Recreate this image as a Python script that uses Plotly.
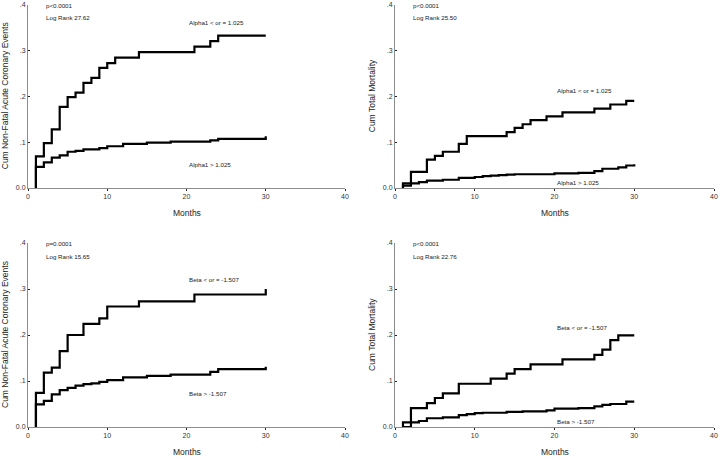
import plotly.graph_objects as go
from plotly.subplots import make_subplots

# ---- data ----
# panel A: non-fatal acute coronary events, Alpha1
a_hi_x = [1, 1, 2, 3, 4, 5, 6, 7, 8, 9, 10, 11, 14, 21, 23, 24, 30]
a_hi_y = [0, 0.069, 0.098, 0.128, 0.177, 0.198, 0.208, 0.229, 0.240, 0.262, 0.272, 0.284, 0.296, 0.308, 0.320, 0.332, 0.332]
a_lo_x = [1, 1, 2, 3, 4, 5, 6, 7, 9, 10, 12, 15, 18, 23, 24, 30, 30]
a_lo_y = [0, 0.046, 0.056, 0.066, 0.071, 0.079, 0.081, 0.084, 0.087, 0.091, 0.096, 0.099, 0.101, 0.104, 0.107, 0.107, 0.113]

# panel B: total mortality, Alpha1
b_hi_x = [1, 1, 2, 4, 5, 6, 8, 9, 14, 15, 16, 17, 19, 21, 25, 27, 29, 30]
b_hi_y = [0, 0.010, 0.035, 0.062, 0.070, 0.079, 0.096, 0.113, 0.122, 0.131, 0.139, 0.148, 0.156, 0.165, 0.173, 0.182, 0.190, 0.190]
b_lo_x = [1, 1, 2, 3, 4, 6, 8, 10, 11, 12, 13, 14, 15, 20, 23, 25, 26, 28, 29, 30]
b_lo_y = [0, 0.005, 0.010, 0.013, 0.016, 0.018, 0.022, 0.024, 0.026, 0.027, 0.028, 0.029, 0.030, 0.032, 0.033, 0.037, 0.042, 0.045, 0.049, 0.052]

# panel C: non-fatal acute coronary events, Beta
c_hi_x = [1, 1, 2, 3, 4, 5, 7, 9, 10, 14, 21, 30, 30]
c_hi_y = [0, 0.074, 0.118, 0.129, 0.165, 0.200, 0.224, 0.236, 0.262, 0.273, 0.288, 0.288, 0.300]
c_lo_x = [1, 1, 2, 3, 4, 5, 6, 7, 8, 9, 10, 12, 15, 18, 23, 24, 30, 30]
c_lo_y = [0, 0.049, 0.057, 0.071, 0.080, 0.085, 0.090, 0.093, 0.095, 0.098, 0.102, 0.108, 0.111, 0.114, 0.120, 0.126, 0.126, 0.131]

# panel D: total mortality, Beta
d_hi_x = [1, 2, 4, 5, 6, 8, 12, 14, 15, 17, 21, 25, 26, 27, 28, 30]
d_hi_y = [0, 0.041, 0.052, 0.063, 0.073, 0.094, 0.105, 0.116, 0.126, 0.136, 0.147, 0.157, 0.168, 0.189, 0.199, 0.199]
d_lo_x = [1, 1, 3, 4, 6, 8, 9, 10, 11, 14, 16, 19, 20, 23, 25, 26, 27, 29, 30]
d_lo_y = [0, 0.010, 0.013, 0.019, 0.021, 0.026, 0.028, 0.030, 0.031, 0.033, 0.034, 0.036, 0.040, 0.041, 0.045, 0.048, 0.050, 0.055, 0.055]

panels = [
    (a_hi_x, a_hi_y, a_lo_x, a_lo_y, "Alpha1 < or = 1.025", "Alpha1 > 1.025", 0.360, 0.052,
     "p<0.0001", "Log Rank 27.62", "Cum Non-Fatal Acute Coronary Events"),
    (b_hi_x, b_hi_y, b_lo_x, b_lo_y, "Alpha1 < or = 1.025", "Alpha1 > 1.025", 0.212, 0.011,
     "p<0.0001", "Log Rank 25.50", "Cum Total Mortality"),
    (c_hi_x, c_hi_y, c_lo_x, c_lo_y, "Beta < or = -1.507", "Beta > -1.507", 0.320, 0.072,
     "p=0.0001", "Log Rank 15.65", "Cum Non-Fatal Acute Coronary Events"),
    (d_hi_x, d_hi_y, d_lo_x, d_lo_y, "Beta < or = -1.507", "Beta > -1.507", 0.217, 0.011,
     "p<0.0001", "Log Rank 22.76", "Cum Total Mortality"),
]

x_ticks = [0, 10, 20, 30, 40]
y_ticks = [0, 0.1, 0.2, 0.3, 0.4]
y_tick_text = ["0.0", ".1", ".2", ".3", ".4"]

W, H = 720, 460
x_doms = [(28 / W, 345 / W), (395 / W, 714 / W)]
y_doms = [(1 - 188 / H, 1 - 4.5 / H), (1 - 427 / H, 1 - 243 / H)]

fig = make_subplots(rows=2, cols=2)
FONT = "Liberation Sans, Arial, sans-serif"

for i, (hx, hy, lx, ly, hlab, llab, hty, lty, ptxt, lrtxt, ytitle) in enumerate(panels):
    r, c = i // 2 + 1, i % 2 + 1
    for xs, ys in [(hx, hy), (lx, ly)]:
        fig.add_trace(go.Scatter(x=xs, y=ys, mode="lines", line_shape="hv",
                                 line=dict(color="black", width=2.2), showlegend=False,
                                 hoverinfo="skip"), row=r, col=c)
    n = "" if i == 0 else str(i + 1)
    xd, yd = x_doms[c - 1], y_doms[r - 1]
    fig.layout["xaxis" + n].update(domain=list(xd), range=[0, 40], tickvals=x_ticks,
                                   showline=True, linecolor="#8c8c8c", linewidth=1,
                                   ticks="outside", ticklen=2, tickcolor="#222",
                                   showgrid=False, zeroline=False, automargin=False,
                                   ticklabeloverflow="allow",
                                   tickfont=dict(size=7, color="#333", family=FONT))
    fig.layout["yaxis" + n].update(domain=list(yd), range=[0, 0.4], tickvals=y_ticks,
                                   ticktext=y_tick_text,
                                   showline=True, linecolor="#8c8c8c", linewidth=1,
                                   ticks="inside", ticklen=2, tickcolor="#222",
                                   showgrid=False, zeroline=False, automargin=False,
                                   ticklabeloverflow="allow",
                                   tickfont=dict(size=7, color="#333", family=FONT))
    xref, yref = "x" + n, "y" + n
    for txt, tx, ty in [(hlab, 20, hty), (llab, 20, lty), (ptxt, 2, 0.398), (lrtxt, 2, 0.371)]:
        fig.add_annotation(x=tx, y=ty, xref=xref, yref=yref, text=txt, showarrow=False,
                           xanchor="left", yanchor="middle",
                           font=dict(size=6.2, color="#222", family=FONT))
    # axis titles
    fig.add_annotation(x=(xd[0] + xd[1]) / 2, y=yd[0] - 25 / H, xref="paper", yref="paper",
                       text="Months", showarrow=False, xanchor="center", yanchor="middle",
                       font=dict(size=8.5, color="#222", family=FONT))
    fig.add_annotation(x=xd[0] - 23 / W, y=(yd[0] + yd[1]) / 2, xref="paper", yref="paper",
                       text=ytitle, textangle=-90, showarrow=False,
                       xanchor="center", yanchor="middle",
                       font=dict(size=8.5, color="#222", family=FONT))

fig.update_layout(width=W, height=H, margin=dict(l=0, r=0, t=0, b=0),
                  plot_bgcolor="white", paper_bgcolor="white")
# the page's default body margin would shift the 720x460 figure
fig.write_html("out.html", config={"displayModeBar": False},
               post_script="document.body.style.margin='0';")
